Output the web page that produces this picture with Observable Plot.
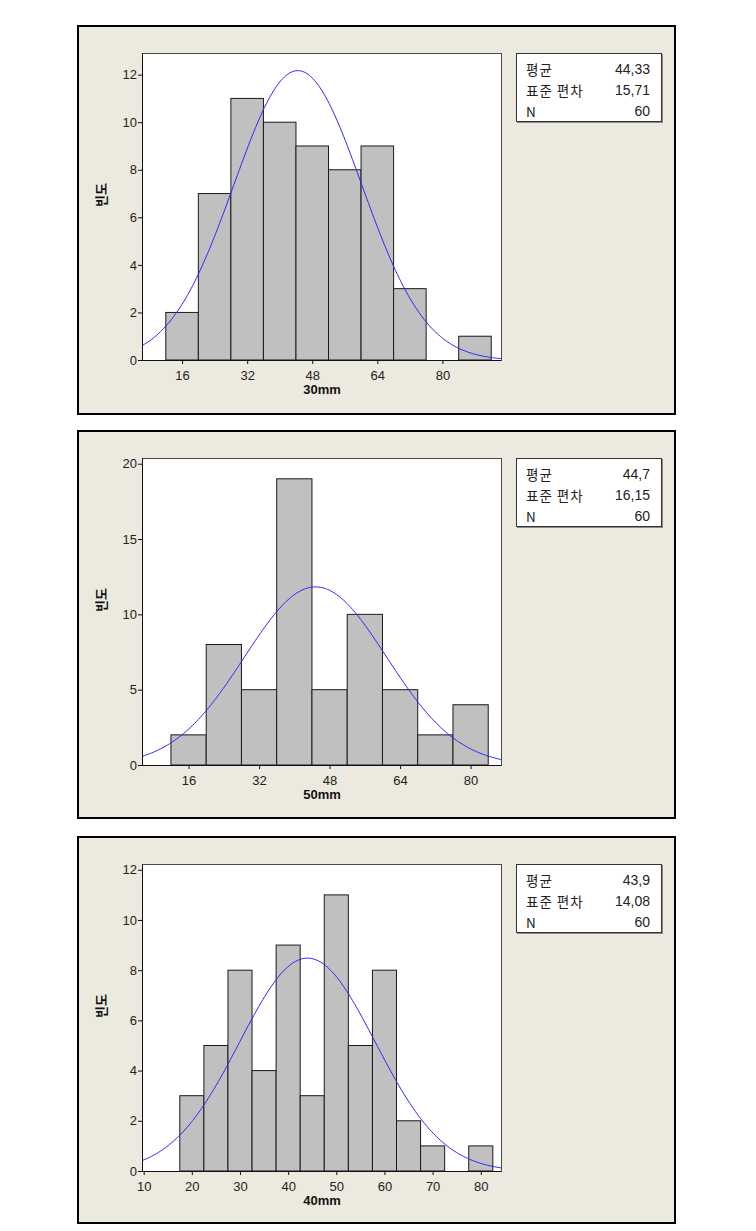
<!DOCTYPE html>
<html>
<head>
<meta charset="utf-8">
<script src="https://cdn.jsdelivr.net/npm/d3@7"></script>
<script src="https://cdn.jsdelivr.net/npm/@observablehq/plot@0.6"></script>
<style>
  html, body { margin: 0; padding: 0; background: #ffffff; }
  body { width: 756px; height: 1231px; position: relative; font-family: "Liberation Sans", "Noto Sans CJK KR", sans-serif; }
  .panel { position: absolute; left: 77px; width: 599px; box-sizing: border-box; border: 2px solid #000; background: #ECE9DF; }
  .panel svg { position: absolute; left: 0; top: 0; }
  .stats { position: absolute; left: 437px; top: 26px; width: 146px; height: 69px; box-sizing: border-box;
           border: 1px solid #333; box-shadow: 1px 1px 0 #8a8a8a; background: #fff;
           padding: 5px 11px 0 9px; font-size: 14px; color: #222; }
  .stats .row { display: flex; justify-content: space-between; line-height: 21px; height: 21px; }
  .stats .k { font-family: "Noto Sans CJK KR", "Liberation Sans", sans-serif; letter-spacing: 1px; font-size: 13.5px; }
</style>
</head>
<body>
<script>
// ---- Data ----
const panelLabels = ["30mm", "50mm", "40mm"];
const yLabel = "빈도";

const edges30 = [12, 20, 28, 36, 44, 52, 60, 68, 76, 84, 92];
const counts30 = [2, 7, 11, 10, 9, 8, 9, 3, 0, 1];

const edges50 = [12, 20, 28, 36, 44, 52, 60, 68, 76, 84];
const counts50 = [2, 8, 5, 19, 5, 10, 5, 2, 4];

const edges40 = [17.5, 22.5, 27.5, 32.5, 37.5, 42.5, 47.5, 52.5, 57.5, 62.5, 67.5, 72.5, 77.5, 82.5];
const counts40 = [3, 5, 8, 4, 9, 3, 11, 5, 8, 2, 1, 0, 1];

const means = [44.33, 44.7, 43.9];
const sds = [15.71, 16.15, 14.08];
const ns = [60, 60, 60];
const meanTexts = ["44,33", "44,7", "43,9"];
const sdTexts = ["15,71", "16,15", "14,08"];
const statKeys = ["평균", "표준 편차", "N"];

const xTicks30 = [16, 32, 48, 64, 80];
const xTicks50 = [16, 32, 48, 64, 80];
const xTicks40 = [10, 20, 30, 40, 50, 60, 70, 80];
const yTicks30 = [0, 2, 4, 6, 8, 10, 12];
const yTicks50 = [0, 5, 10, 15, 20];
const yTicks40 = [0, 2, 4, 6, 8, 10, 12];

// ---- Layout (scale extents / placement) ----
const panels = [
  {label: panelLabels[0], edges: edges30, counts: counts30, mean: means[0], sd: sds[0], n: ns[0],
   meanText: meanTexts[0], sdText: sdTexts[0], xTicks: xTicks30, yTicks: yTicks30,
   xDomain: [6.15, 94.4], yDomain: [0, 12.91], top: 25, height: 390},
  {label: panelLabels[1], edges: edges50, counts: counts50, mean: means[1], sd: sds[1], n: ns[1],
   meanText: meanTexts[1], sdText: sdTexts[1], xTicks: xTicks50, yTicks: yTicks50,
   xDomain: [5.43, 86.9], yDomain: [0, 20.38], top: 430, height: 389},
  {label: panelLabels[2], edges: edges40, counts: counts40, mean: means[2], sd: sds[2], n: ns[2],
   meanText: meanTexts[2], sdText: sdTexts[2], xTicks: xTicks40, yTicks: yTicks40,
   xDomain: [9.65, 84.2], yDomain: [0, 12.23], top: 836, height: 388}
];

const fontStack = "'Liberation Sans', 'Noto Sans CJK KR', sans-serif";

function fittedCurve(p) {
  // Normal curve implied by the displayed mean, SD and N, scaled to bin width
  const w = p.edges[1] - p.edges[0];
  const [a, b] = p.xDomain;
  const steps = 200;
  const pts = [];
  for (let i = 0; i <= steps; i++) {
    const x = a + (b - a) * i / steps;
    const z = (x - p.mean) / p.sd;
    pts.push({x, y: p.n * w * Math.exp(-0.5 * z * z) / (p.sd * Math.sqrt(2 * Math.PI))});
  }
  return pts;
}

for (const p of panels) {
  const div = document.createElement("div");
  div.className = "panel";
  div.style.top = p.top + "px";
  div.style.height = p.height + "px";
  document.body.appendChild(div);

  const bars = p.counts.map((c, i) => ({x1: p.edges[i], x2: p.edges[i + 1], c})).filter(d => d.c > 0);
  const H = p.height - 4;
  const plotH = 307;

  const chart = Plot.plot({
    width: 440,
    height: H,
    marginLeft: 63,
    marginRight: 18,
    marginTop: 26,
    marginBottom: H - 26 - plotH,
    style: {background: "transparent", fontFamily: fontStack, fontSize: "13px", color: "#222", overflow: "visible"},
    x: {domain: p.xDomain},
    y: {domain: p.yDomain},
    marks: [
      Plot.frame({fill: "white"}),
      Plot.rect(bars, {x1: "x1", x2: "x2", y1: 0, y2: "c", fill: "#c0c0c0", stroke: "#1a1a1a", strokeWidth: 1}),
      Plot.line(fittedCurve(p), {x: "x", y: "y", stroke: "#2a2aff", strokeWidth: 1, clip: true}),
      Plot.frame({stroke: "#4a4a4a"}),
      Plot.ruleX([p.xDomain[0]], {stroke: "#111"}),
      Plot.ruleY([p.yDomain[0]], {stroke: "#111"}),
      Plot.axisX(p.xTicks, {tickSize: 4, tickPadding: 6, label: null, stroke: "#111", fill: "#222", fontSize: 13}),
      Plot.axisY(p.yTicks, {tickSize: 4, tickPadding: 1.5, label: null, stroke: "#111", fill: "#222", fontSize: 13}),
      Plot.text([p.label], {frameAnchor: "bottom", dy: 33, fontWeight: "bold", fontSize: 13, fill: "#111"}),
      Plot.text([yLabel], {frameAnchor: "left", dx: -41, rotate: -90, fontWeight: "bold", fontSize: 13, fill: "#111"})
    ]
  });
  div.appendChild(chart);

  const stats = document.createElement("div");
  stats.className = "stats";
  const vals = [p.meanText, p.sdText, String(p.n)];
  stats.innerHTML = statKeys.map((k, i) =>
    `<div class="row"><span class="k">${k}</span><span>${vals[i]}</span></div>`).join("");
  div.appendChild(stats);
}
</script>
</body>
</html>
